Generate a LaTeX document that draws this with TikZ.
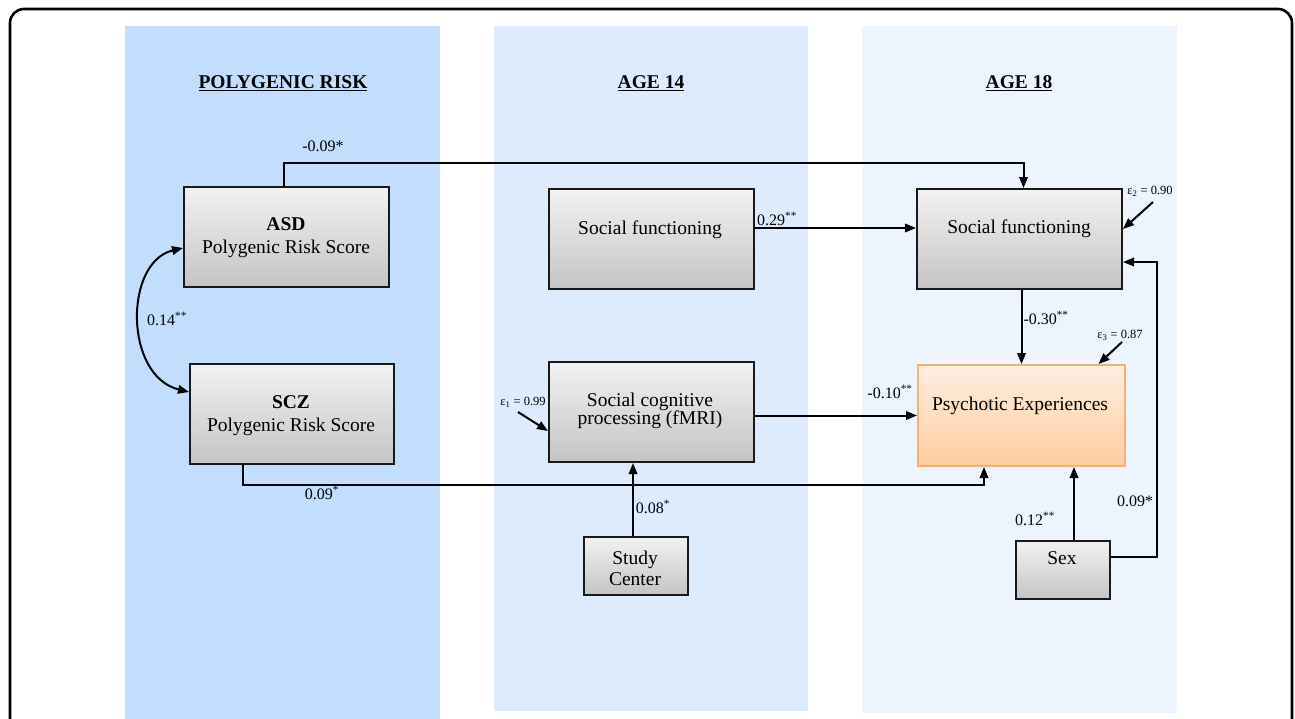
\documentclass[tikz,border=0pt]{standalone}
\usepackage{fontspec}
\setmainfont{Liberation Serif}
\usetikzlibrary{arrows.meta}
\definecolor{colA}{RGB}{194,222,252}
\definecolor{colB}{RGB}{221,235,253}
\definecolor{colC}{RGB}{236,245,254}
\definecolor{gTop}{RGB}{242,242,242}
\definecolor{gBot}{RGB}{196,196,196}
\definecolor{peBorder}{RGB}{247,176,112}
\definecolor{peTop}{RGB}{254,239,226}
\definecolor{peBot}{RGB}{253,204,158}
\begin{document}
\begin{tikzpicture}[x=1pt,y=-1pt,
  gbox/.style={draw=black!90,line width=2pt,top color=gTop,bottom color=gBot,inner sep=0pt,anchor=north west},
  pbox/.style={draw=peBorder,line width=2pt,top color=peTop,bottom color=peBot,inner sep=0pt,anchor=north west},
  btext/.style={font=\fontsize{19.5}{23}\selectfont,align=center,inner sep=0pt},
  lab/.style={font=\fontsize{16}{19}\selectfont,inner sep=0pt},
  elab/.style={font=\fontsize{12.5}{14}\selectfont,inner sep=0pt},
  ttl/.style={font=\fontsize{19.5}{22}\selectfont\bfseries,inner sep=0pt},
  conn/.style={line width=2pt,-{Triangle[length=11pt,width=8.5pt]}},
  biconn/.style={line width=2pt,{Triangle[length=11pt,width=8.5pt]}-{Triangle[length=11pt,width=8.5pt]}}
]
\useasboundingbox (0,0) rectangle (1295,718);
\clip (0,0) rectangle (1295,718);
% column backgrounds
\fill[colA] (125,26) rectangle (440,730);
\fill[colB] (494,26) rectangle (808,711);
\fill[colC] (862,26) rectangle (1177,713);
% frame
\draw[line width=2.6pt,rounded corners=14pt] (10,9) rectangle (1292,780);
% titles
\node[ttl] (t1) at (283,83) {\underline{POLYGENIC RISK}};
\node[ttl] (t2) at (651,83) {\underline{AGE 14}};
\node[ttl] (t3) at (1019,83) {\underline{AGE 18}};
% boxes
\node[gbox,minimum width=205pt,minimum height=100pt] (asd) at (183,186) {};
\node[gbox,minimum width=204pt,minimum height=100pt] (scz) at (189,363) {};
\node[gbox,minimum width=205pt,minimum height=100pt] (sf14) at (548,188) {};
\node[gbox,minimum width=205pt,minimum height=100pt] (scp) at (548,361) {};
\node[gbox,minimum width=205pt,minimum height=100pt] (sf18) at (916,188) {};
\node[pbox,minimum width=207pt,minimum height=101pt] (pe) at (917,364) {};
\node[gbox,minimum width=104pt,minimum height=58pt] (sc) at (583,536) {};
\node[gbox,minimum width=94pt,minimum height=58pt] (sex) at (1015,540) {};
% box texts
\node[btext] (asdT) at (286,238) {\textbf{ASD}\\Polygenic Risk Score};
\node[btext] (sczT) at (291,416) {\textbf{SCZ}\\Polygenic Risk Score};
\node[btext] (sf14T) at (650,230) {Social functioning};
\node[btext,font=\fontsize{19.5}{18}\selectfont] (scpT) at (650,411) {Social cognitive\\processing (fMRI)};
\node[btext,font=\fontsize{19.5}{21}\selectfont] (sf18T) at (1019,229) {Social functioning};
\node[btext] (peT) at (1020,406) {Psychotic Experiences};
\node[btext,font=\fontsize{19.5}{21}\selectfont] (scT) at (635,568) {Study\\Center};
\node[btext] (sexT) at (1062,558) {Sex};
% connectors
\draw[conn] ([xshift=-3pt]asd.north) -- ++(0,-23) -| ([xshift=4pt]sf18.north);
\draw[conn] ([yshift=11pt]sf14.east) -- ([yshift=11pt]sf18.west);
\draw[conn] (scp.east |- pe.west) -- (pe.west);
\draw[conn] ([xshift=-49pt]scz.south) -- ++(0,20) -| ([xshift=-37.5pt]pe.south);
\draw[conn] ([xshift=-3pt]sc.north) -- ([xshift=-3pt]sc.north |- scp.south);
\draw[conn] ([xshift=2pt]sf18.south) -- ([xshift=2pt]sf18.south |- pe.north);
\draw[conn] ([xshift=11pt]sex.north) -- ([xshift=11pt]sex.north |- pe.south);
\draw[conn] ([yshift=13pt]sex.east) -- ++(46,0) |- ([yshift=-23pt]sf18.east);
\draw[biconn] ([yshift=-11pt]asd.west) .. controls (124,262) and (124,376) .. ([yshift=22pt]scz.west);
% error terms
\node[elab] (e1) at (523,402) {ε\textsubscript{1} = 0.99};
\coordinate (e1s) at (518,412);
\draw[conn] (e1s) -- ([yshift=-19pt]scp.west);
\node[elab] (e2) at (1150,191) {ε\textsubscript{2} = 0.90};
\coordinate (e2s) at (1153,202);
\draw[conn] (e2s) -- ([yshift=10pt]sf18.east);
\node[elab] (e3) at (1120,335) {ε\textsubscript{3} = 0.87};
\coordinate (e3s) at (1122,342);
\draw[conn] (e3s) -- ([xshift=77pt]pe.north);
% path labels
\node[lab] (l1) at (323,146) {-0.09*};
\node[lab,anchor=south west] (l2) at (757,226) {0.29\textsuperscript{**}};
\node[lab] (l3) at (890,392) {-0.10\textsuperscript{**}};
\node[lab] (l4) at (322,493) {0.09\textsuperscript{*}};
\node[lab] (l5) at (653,507) {0.08\textsuperscript{*}};
\node[lab] (l6) at (1046,318) {-0.30\textsuperscript{**}};
\node[lab] (l7) at (1035,519) {0.12\textsuperscript{**}};
\node[lab] (l8) at (1135,501) {0.09*};
\node[lab] (l9) at (167,319) {0.14\textsuperscript{**}};
\end{tikzpicture}
\end{document}
